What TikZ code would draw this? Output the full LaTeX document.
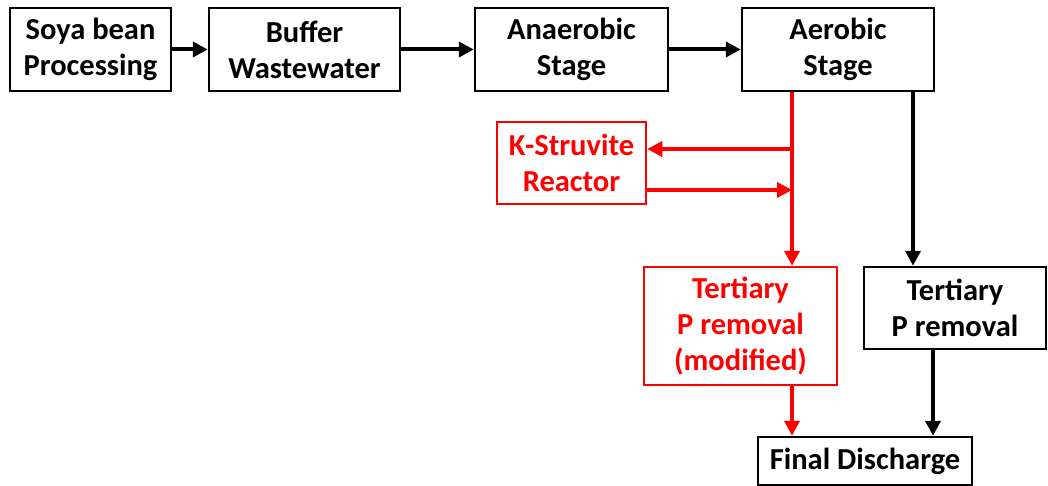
\documentclass[tikz,border=0pt]{standalone}
\usepackage{fontspec}
\setmainfont{Carlito}
\usetikzlibrary{arrows.meta}
\tikzset{
  box/.style={draw, line width=2.5pt, inner sep=0pt, align=center,
    font=\fontsize{30.5}{36}\selectfont\bfseries},
  redbox/.style={box, draw=red, text=red},
  flow/.style={line width=4pt, -{Triangle[length=15pt,width=15pt]}},
}
\begin{document}
\begin{tikzpicture}[x=1pt, y=-1pt]
\useasboundingbox (0,0) rectangle (1048,486);
% top row
\node[box, minimum width=161pt, minimum height=83pt] (soya) at (90.5,49.5) {Soya bean\\Processing};
\node[box, minimum width=191pt, minimum height=83pt] (buffer) at (304.5,49.5) {Buffer\\Wastewater};
\node[box, minimum width=193pt, minimum height=83pt] (anaer) at (571.5,49.5) {Anaerobic\\Stage};
\node[box, minimum width=192pt, minimum height=83pt] (aer) at (838,49.5) {Aerobic\\Stage};
% side and lower boxes
\node[redbox, minimum width=149pt, minimum height=82pt] (kstr) at (571.5,163) {K-Struvite\\Reactor};
\node[redbox, minimum width=193pt, minimum height=118pt] (tmod) at (740.5,326) {Tertiary\\P removal\\(modified)};
\node[box, minimum width=182pt, minimum height=82pt] (tert) at (955,308) {Tertiary\\P removal};
\node[box, minimum width=214pt, minimum height=48pt] (final) at (865,461) {Final Discharge};
% helper points
\coordinate (redx) at (792,0);
\coordinate (blkx) at (913,0);
\coordinate (blkx2) at (933,0);
\coordinate (tap) at (792,149);
\coordinate (ret) at (792,190);
% arrows
\draw[flow] (soya.east) -- (buffer.west);
\draw[flow] (buffer.east) -- (anaer.west);
\draw[flow] (anaer.east) -- (aer.west);
\draw[flow, red] (aer.south -| redx) -- (tmod.north -| redx);
\draw[flow, red] (tap) -- (tap -| kstr.east);
\draw[flow, red] (kstr.east |- ret) -- (ret);
\draw[flow, red] (tmod.south -| redx) -- (final.north -| redx);
\draw[flow] (aer.south -| blkx) -- (tert.north -| blkx);
\draw[flow] (tert.south -| blkx2) -- (final.north -| blkx2);
\end{tikzpicture}
\end{document}
